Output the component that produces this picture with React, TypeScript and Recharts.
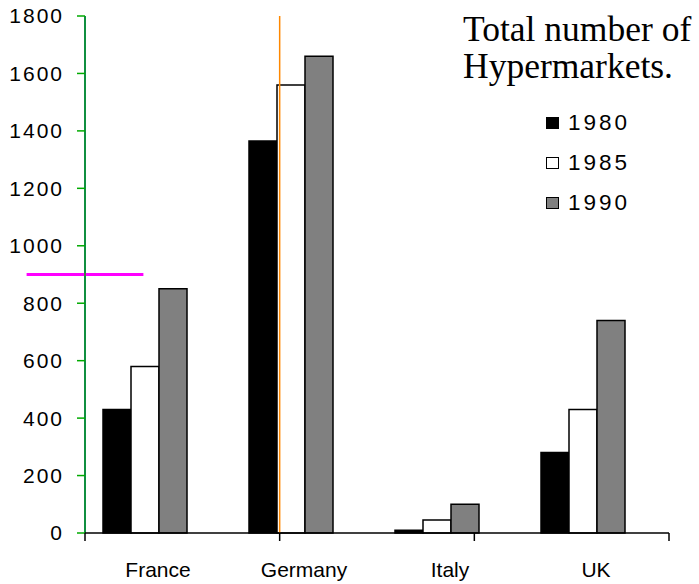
import { BarChart, Bar, XAxis, YAxis, Legend, ReferenceLine } from "recharts";

const countries = ["France", "Germany", "Italy", "UK"];
const values1980 = [430, 1365, 10, 280];
const values1985 = [580, 1560, 45, 430];
const values1990 = [850, 1660, 100, 740];
const yTicks = [0, 200, 400, 600, 800, 1000, 1200, 1400, 1600, 1800];
const boundaryTicks = [0, 1, 2, 3, 4];

const data = countries.map((name, i) => ({
  name,
  y1980: values1980[i],
  y1985: values1985[i],
  y1990: values1990[i],
  pad: 0,
}));

const sans = "'Liberation Sans', Arial, sans-serif";

const LegendBox = (props: any) => {
  const items = (props.payload || []).filter((p: any) => p.type !== "none");
  return (
    <div style={{ fontFamily: sans, color: "#000", textAlign: "left" }}>
      <div
        style={{
          fontFamily: "'Liberation Serif', 'Times New Roman', serif",
          fontSize: 35.5,
          lineHeight: "37px",
          whiteSpace: "nowrap",
        }}
      >
        <div>Total number of</div>
        <div>Hypermarkets.</div>
      </div>
      <div style={{ marginTop: 18, marginLeft: 83 }}>
        {items.map((item: any) => (
          <div
            key={item.value}
            style={{ height: 40, display: "flex", alignItems: "center" }}
          >
            <span
              style={{
                display: "inline-block",
                width: 11,
                height: 10,
                background: item.payload.fill,
                border: "1.5px solid #000",
                marginRight: 9,
              }}
            />
            <span style={{ fontSize: 22.5, letterSpacing: 3 }}>{item.value}</span>
          </div>
        ))}
      </div>
    </div>
  );
};

const NoTick = () => <g />;

export default function App() {
  return (
    <div style={{ position: "absolute", left: 0, top: 0, background: "#fff" }}>
      <BarChart
        width={699}
        height={584}
        data={data}
        margin={{ top: 16, right: 30, left: 0, bottom: 0 }}
        barGap={0}
        barCategoryGap={18}
      >
        <YAxis
          type="number"
          domain={[0, 1800]}
          ticks={yTicks}
          width={85}
          tickSize={8}
          tickMargin={13}
          axisLine={{ stroke: "#00aa00", strokeWidth: 1.5 }}
          tickLine={{ stroke: "#00aa00", strokeWidth: 1.5 }}
          tick={{ fill: "#000", fontSize: 21, fontFamily: sans, letterSpacing: 2 }}
        />
        <XAxis
          xAxisId="a_grid"
          type="number"
          domain={[0, 4]}
          ticks={boundaryTicks}
          height={1}
          tick={NoTick}
          tickSize={8}
          stroke="#000"
          strokeWidth={1.5}
        />
        <XAxis
          xAxisId="b_cat"
          dataKey="name"
          height={50}
          axisLine={false}
          tickLine={false}
          tickSize={0}
          tickMargin={28}
          tick={{ fill: "#000", fontSize: 21, fontFamily: sans }}
        />
        <ReferenceLine xAxisId="a_grid" x={0} stroke="#0000ff" strokeWidth={1.5} ifOverflow="visible" />
        <ReferenceLine xAxisId="a_grid" x={1} stroke="#ff8800" strokeWidth={1.5} />
        <ReferenceLine
          xAxisId="a_grid"
          ifOverflow="visible"
          stroke="#ff00ff"
          strokeWidth={3}
          segment={[
            { x: -0.3, y: 900 },
            { x: 0.3, y: 900 },
          ]}
        />
        <Legend
          layout="vertical"
          align="center"
          verticalAlign="middle"
          content={<LegendBox />}
          wrapperStyle={{ position: "absolute", top: 11, left: 463, width: 236 }}
        />
        <Bar xAxisId="b_cat" dataKey="y1980" name="1980" fill="#000000" stroke="#000" strokeWidth={1.5} isAnimationActive={false} />
        <Bar xAxisId="b_cat" dataKey="y1985" name="1985" fill="#ffffff" stroke="#000" strokeWidth={1.5} isAnimationActive={false} />
        <Bar xAxisId="b_cat" dataKey="y1990" name="1990" fill="#808080" stroke="#000" strokeWidth={1.5} isAnimationActive={false} />
        <Bar xAxisId="b_cat" dataKey="pad" legendType="none" fill="none" isAnimationActive={false} />
      </BarChart>
    </div>
  );
}
